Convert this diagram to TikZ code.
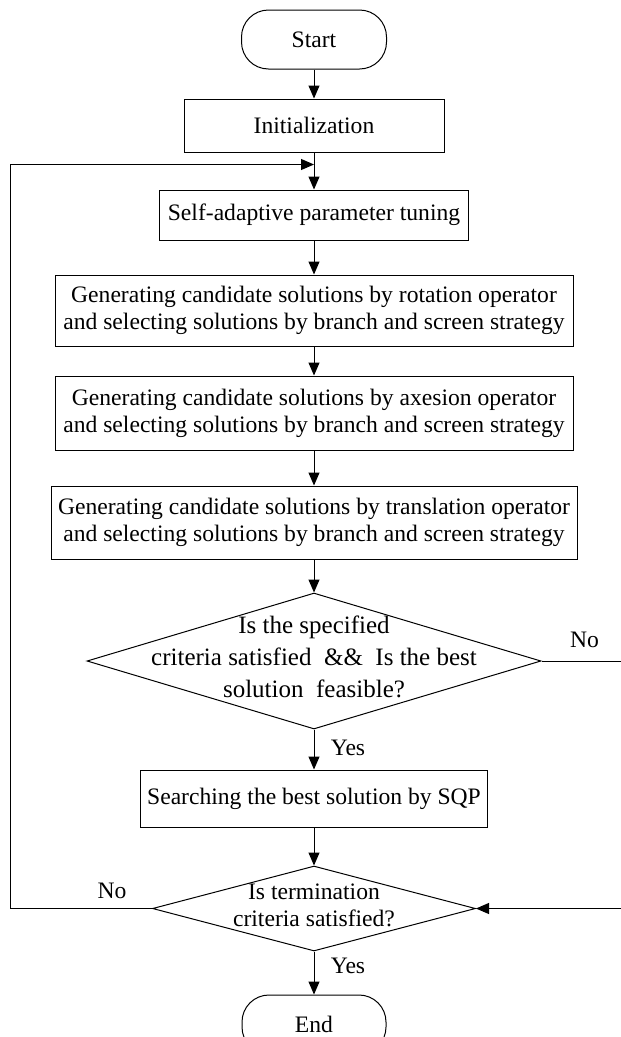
\documentclass[tikz,border=0pt]{standalone}
\usepackage{fontspec}
\setmainfont{Liberation Serif}
\usetikzlibrary{arrows.meta, positioning, shapes.geometric}
\tikzset{
	terminal/.style={rectangle, rounded corners=27pt, draw, line width=1pt, minimum width=145pt, minimum height=59pt, inner sep=0pt, font=\fontsize{23.6}{27}\selectfont},
	process/.style={rectangle, draw, line width=1pt, align=center, inner sep=0pt, font=\fontsize{23.6}{27}\selectfont},
	decision/.style={diamond, draw, line width=1pt, inner sep=0pt},
	dectext/.style={align=center, inner sep=0pt, font=\fontsize{23.6}{27}\selectfont},
	answer/.style={inner sep=0pt, font=\fontsize{23.6}{27}\selectfont},
	arrow/.style={-{Triangle[length=13pt, width=11pt]}, line width=1pt},
}

\begin{document}
\begin{tikzpicture}[node distance=33pt]
	\useasboundingbox (0,0) rectangle (621pt,-1037pt);
	\node[terminal] (start) at (314pt,-39.5pt) {Start};
	\node[process, minimum width=260pt, minimum height=53pt, below=29pt of start] (init) {Initialization};
	\node[process, minimum width=309pt, minimum height=50pt, below=37pt of init] (tuning) {Self-adaptive parameter tuning};
	\node[process, minimum width=518pt, minimum height=71pt, below=34pt of tuning] (rotation) {Generating candidate solutions by rotation operator\\and selecting solutions by branch and screen strategy};
	\node[process, minimum width=518pt, minimum height=74pt, below=29pt of rotation] (axesion) {Generating candidate solutions by axesion operator\\and selecting solutions by branch and screen strategy};
	\node[process, minimum width=526pt, minimum height=73pt, below=35pt of axesion] (translation) {Generating candidate solutions by translation operator\\and selecting solutions by branch and screen strategy};
	\node[decision, minimum width=454pt, minimum height=136pt, below=33pt of translation] (check) {};
	\node[dectext, font=\fontsize{25}{32}\selectfont] (checktext) at ([yshift=4pt]check) {Is the specified\\criteria satisfied \ \&\& \ Is the best\\solution \ feasible?};
	\node[process, minimum width=347pt, minimum height=57pt, below=40pt of check] (sqp) {Searching the best solution by SQP};
	\node[decision, minimum width=323pt, minimum height=85pt, below=38pt of sqp] (stop) {};
	\node[dectext] (stoptext) at ([yshift=3pt]stop) {Is termination\\criteria satisfied?};
	\node[terminal, minimum width=144pt, below=43pt of stop] (end) {End};
	\coordinate[below=12pt of init] (join);
	\node[answer] (no1) at ([xshift=43pt, yshift=21pt]check.east) {No};
	\node[answer] (yes1) at ([xshift=34pt, yshift=-18pt]check.south) {Yes};
	\node[answer] (no2) at ([xshift=-40pt, yshift=18pt]stop.west) {No};
	\node[answer] (yes2) at ([xshift=34pt, yshift=-14pt]stop.south) {Yes};
	\draw[arrow] (start) -- (init);
	\draw[arrow] (init) -- (tuning);
	\draw[arrow] (tuning) -- (rotation);
	\draw[arrow] (rotation) -- (axesion);
	\draw[arrow] (axesion) -- (translation);
	\draw[arrow] (translation) -- (check);
	\draw[arrow] (check) -- (sqp);
	\draw[arrow] (sqp) -- (stop);
	\draw[arrow] (stop) -- (end);
	\draw[arrow] (stop.west) -- ++(-142pt,0) |- (join);
	\draw[arrow] (check.east) -- ++(83pt,0) |- (stop.east);
\end{tikzpicture}
\end{document}
